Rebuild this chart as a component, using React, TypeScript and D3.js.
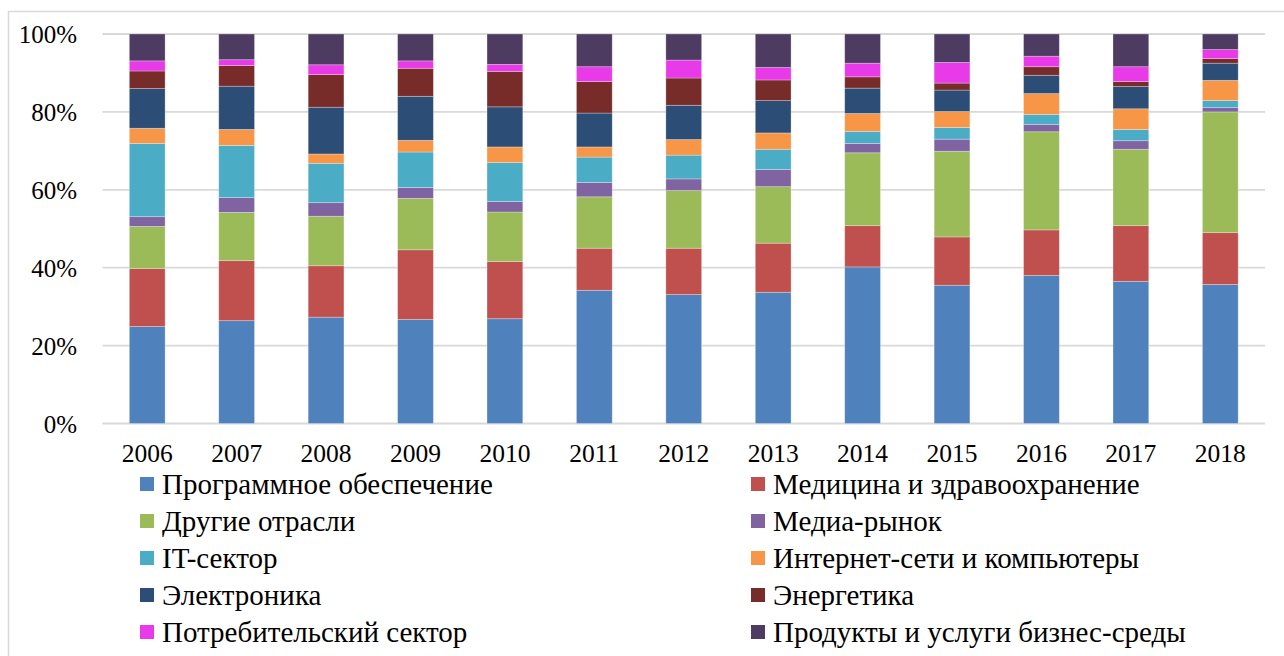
import React, { useEffect, useRef } from 'react'
import * as d3 from 'd3'

const years = ['2006', '2007', '2008', '2009', '2010', '2011', '2012', '2013', '2014', '2015', '2016', '2017', '2018']

const seriesNames = [
  'Программное обеспечение',
  'Медицина и здравоохранение',
  'Другие отрасли',
  'Медиа-рынок',
  'IT-сектор',
  'Интернет-сети и компьютеры',
  'Электроника',
  'Энергетика',
  'Потребительский сектор',
  'Продукты и услуги бизнес-среды',
]

const colors = ['#4F81BD', '#C0504D', '#9BBB59', '#8064A2', '#4BACC6', '#F79646', '#2C4D75', '#772C2A', '#E83AE8', '#4D3B62']

// shares, %, one array per series (2006..2018)
const software = [24.9, 26.4, 27.3, 26.7, 26.9, 34.2, 33.1, 33.7, 40.2, 35.5, 38.0, 36.5, 35.7]
const medicine = [14.9, 15.4, 13.2, 17.9, 14.7, 10.8, 11.9, 12.6, 10.6, 12.4, 11.7, 14.3, 13.3]
const other = [10.8, 12.4, 12.7, 13.2, 12.7, 13.2, 14.8, 14.5, 18.7, 22.0, 25.2, 19.6, 31.0]
const media = [2.5, 3.8, 3.5, 2.8, 2.7, 3.7, 3.0, 4.4, 2.4, 3.1, 1.9, 2.2, 1.1]
const itSector = [18.8, 13.4, 10.1, 9.1, 10.0, 6.5, 6.1, 5.2, 3.1, 3.0, 2.5, 2.9, 1.8]
const internet = [3.9, 4.1, 2.4, 3.0, 4.0, 2.6, 4.0, 4.2, 4.6, 4.1, 5.4, 5.3, 5.2]
const electronics = [10.2, 11.1, 12.0, 11.3, 10.3, 8.7, 8.8, 8.3, 6.5, 5.5, 4.7, 5.7, 4.4]
const energy = [4.5, 5.3, 8.4, 7.2, 9.1, 8.1, 7.0, 5.3, 2.9, 1.8, 2.2, 1.3, 1.2]
const consumer = [2.6, 1.5, 2.5, 1.9, 1.8, 3.8, 4.6, 3.2, 3.5, 5.3, 2.7, 3.8, 2.3]
const business = [6.9, 6.6, 7.9, 6.9, 7.8, 8.4, 6.7, 8.6, 7.5, 7.3, 5.7, 8.4, 4.0]

const seriesValues = [software, medicine, other, media, itSector, internet, electronics, energy, consumer, business]

const yTicks = [0, 20, 40, 60, 80, 100]

const W = 1284
const H = 656
const serif = 'Liberation Serif, Times New Roman, serif'

export default function App() {
  const ref = useRef<SVGSVGElement>(null)

  useEffect(() => {
    const svg = d3.select(ref.current)
    svg.selectAll('*').remove()

    const rows = years.map((y, i) => {
      const r: any = { year: y }
      seriesNames.forEach((n, k) => (r[n] = seriesValues[k][i]))
      return r
    })
    const stacked = d3.stack().keys(seriesNames).offset(d3.stackOffsetExpand)(rows)

    const x = d3.scaleBand().domain(years).range([102.5, 1265]).paddingInner(0.6).paddingOuter(0.3)
    const y = d3.scaleLinear().domain([0, 1]).range([423.5, 34])

    // frame
    svg.append('rect')
      .attr('x', 8.5).attr('y', 11.5)
      .attr('width', W + 20).attr('height', H + 20)
      .attr('fill', '#fff').attr('stroke', '#d9d9d9').attr('stroke-width', 1.5)

    // grid
    svg.append('g')
      .selectAll('line')
      .data(yTicks)
      .join('line')
      .attr('x1', 102.5).attr('x2', 1265)
      .attr('y1', d => y(d / 100)).attr('y2', d => y(d / 100))
      .attr('stroke', '#d9d9d9').attr('stroke-width', 1.8)

    svg.append('g')
      .attr('font-family', serif).attr('font-size', 25)
      .attr('text-anchor', 'end')
      .selectAll('text')
      .data(yTicks)
      .join('text')
      .attr('x', 77).attr('y', d => y(d / 100) + 9)
      .attr('fill', '#000')
      .text(d => d + '%')

    // bars
    svg.append('g')
      .selectAll('g')
      .data(stacked)
      .join('g')
      .attr('fill', (d, i) => colors[i])
      .selectAll('rect')
      .data(d => d)
      .join('rect')
      .attr('x', d => x(d.data.year as string)!)
      .attr('width', x.bandwidth())
      .attr('y', d => y(d[1]))
      .attr('height', d => y(d[0]) - y(d[1]))
      .attr('stroke', 'rgba(255,255,255,0.35)')
      .attr('stroke-width', 0.8)

    svg.append('g')
      .attr('font-family', serif).attr('font-size', 25.5)
      .attr('text-anchor', 'middle')
      .selectAll('text')
      .data(years)
      .join('text')
      .attr('x', d => x(d)! + x.bandwidth() / 2)
      .attr('y', 462)
      .attr('fill', '#000')
      .text(d => d)

    // legend, two columns
    const legend = svg.append('g')
      .attr('font-family', serif).attr('font-size', 29)
      .selectAll('g')
      .data(seriesNames)
      .join('g')
      .attr('transform', (d, i) => `translate(${i % 2 === 0 ? 140 : 751},${484 + Math.floor(i / 2) * 37})`)

    legend.append('rect')
      .attr('x', 0).attr('y', -7).attr('width', 14).attr('height', 14)
      .attr('fill', (d, i) => colors[i])

    legend.append('text')
      .attr('x', 22).attr('y', 10)
      .attr('fill', '#000')
      .text(d => d)
  }, [])

  return (
    <svg ref={ref} width={W} height={H} style={{ position: 'absolute', left: 0, top: 0 }} />
  )
}
